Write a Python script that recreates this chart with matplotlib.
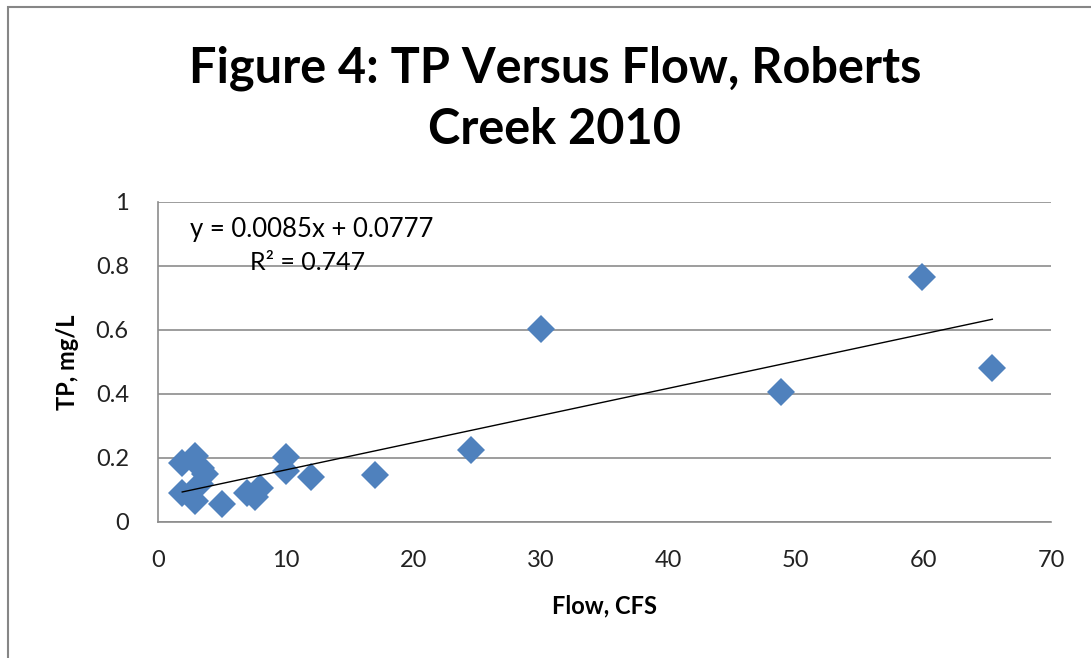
import matplotlib
matplotlib.use("Agg")
import matplotlib.pyplot as plt
from matplotlib.patches import Rectangle
import numpy as np

# values
flow = [1.9, 1.9, 2.9, 2.9, 3.4, 3.7, 3.3, 5.0, 7.0, 7.6, 8.0, 10.0, 10.0, 12.0,
        17.0, 24.5, 30.0, 48.8, 59.9, 65.4]
tp = [0.185, 0.09, 0.205, 0.066, 0.17, 0.15, 0.12, 0.056, 0.09, 0.078, 0.107,
      0.202, 0.158, 0.142, 0.148, 0.225, 0.603, 0.405, 0.767, 0.480]

slope = 0.0085
intercept = 0.0777
r2 = 0.747

x_ticks = [0, 10, 20, 30, 40, 50, 60, 70]
y_ticks = [0, 0.2, 0.4, 0.6, 0.8, 1]
y_tick_labels = ["0", "0.2", "0.4", "0.6", "0.8", "1"]

title_lines = ["Figure 4: TP Versus Flow, Roberts", "Creek 2010"]

plt.rcParams['font.family'] = ['Lato', 'DejaVu Sans']

W, H = 1091, 658
fig = plt.figure(figsize=(W / 100, H / 100), dpi=100)

# outer chart border (left and top visible in the reference)
fig.patches.append(Rectangle((8 / W, -0.1), 1.2, 1 - 7 / H + 0.1,
                             transform=fig.transFigure, fill=False,
                             edgecolor='#868686', linewidth=1.5))

ax = fig.add_axes([158 / W, 1 - 522 / H, (1051 - 158) / W, (522 - 202) / H])

ax.plot(flow, tp, linestyle='none', marker='D', markersize=14,
        color='#4F81BD', markeredgewidth=0, zorder=3)

xs = np.array([min(flow), max(flow)])
ax.plot(xs, slope * xs + intercept, color='black', linewidth=1, zorder=4)

ax.set_xlim(0, 70)
ax.set_ylim(0, 1)
ax.set_xticks(x_ticks)
ax.set_yticks(y_ticks)
ax.set_yticklabels(y_tick_labels)
ax.tick_params(axis='both', length=0, labelsize=17, colors='#222222')
ax.tick_params(axis='y', pad=21)
ax.tick_params(axis='x', pad=20)

ax.grid(axis='y', color='#8c8c8c', linewidth=1.2)
ax.set_axisbelow(True)
for side in ['top', 'right']:
    ax.spines[side].set_visible(False)
for side in ['left', 'bottom']:
    ax.spines[side].set_color('#8c8c8c')
    ax.spines[side].set_linewidth(1.2)

ax.set_xlabel('Flow, CFS', fontsize=17, fontweight='bold', labelpad=17)
ax.set_ylabel('TP, mg/L', fontsize=17, fontweight='bold', labelpad=12)

ax.text(2.5, 0.915, f'y = {slope}x + {intercept}', fontsize=18.5, va='center', ha='left')
ax.text(7.2, 0.812, f'R\u00b2 = {r2}', fontsize=18, va='center', ha='left')

fig.text(555 / W, 1 - 68 / H, title_lines[0], ha='center', va='center',
         fontsize=35, fontweight='bold')
fig.text(555 / W, 1 - 130 / H, title_lines[1], ha='center', va='center',
         fontsize=35, fontweight='bold')

fig.savefig('out.png', dpi=100)
